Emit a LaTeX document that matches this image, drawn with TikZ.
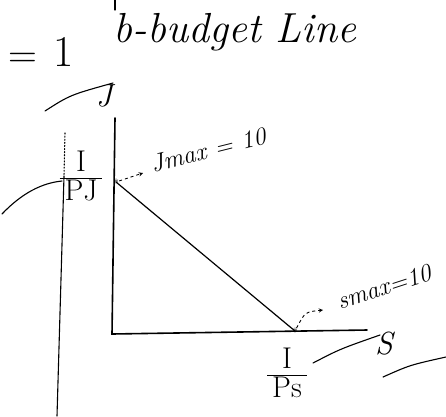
\documentclass[tikz,border=0pt]{standalone}
\usetikzlibrary{arrows, positioning}
\setlength{\arrayrulewidth}{1pt}
\tikzstyle{hand} = [line width=1.1pt, line cap=round]
\tikzstyle{axis} = [line width=1.6pt, line cap=round]
\tikzstyle{arrow} = [line width=0.9pt, ->, >=stealth, dashed]
\tikzstyle{note} = [inner sep=0pt, font=\fontsize{25}{27}\selectfont\itshape]
\tikzstyle{big} = [inner sep=0pt, font=\fontsize{32}{34}\selectfont\itshape]
\tikzstyle{frac} = [inner sep=0pt, font=\fontsize{30}{32}\selectfont]

\begin{document}
\begin{tikzpicture}[x=1pt, y=-1pt]
    \useasboundingbox (0,0) rectangle (446,416);

    % Title
    \node (eq) at (23,60) [inner sep=0pt, font=\fontsize{40}{42}\selectfont] {=};
    \node (one) at (64,52) [inner sep=0pt, font=\fontsize{44}{46}\selectfont] {1};
    \node (title) at (235,32) [inner sep=0pt, font=\fontsize{42}{44}\selectfont\itshape] {b-budget Line};
    \draw[hand] (115,0) -- (115,10);

    % Axes
    \coordinate (top) at (115,118);
    \coordinate (origin) at (112,334);
    \coordinate (right) at (367,330);
    \draw[axis] (top) -- (origin) -- (right);
    \node (jlbl) at (104,96) [big] {J};
    \node (slbl) at (384,344) [big] {S};

    % Intercepts
    \node (jstar) at (116,182) [inner sep=0pt, font=\large] {$*$};
    \node (sstar) at (295,331) [inner sep=0pt, font=\large] {$*$};
    \draw[line width=1.2pt] (jstar.center) -- (sstar.center);

    \node (jfrac) at (81,180) [frac] {\begin{tabular}{@{\,}c@{\,}}I\\[-4pt]\hline PJ\end{tabular}};
    \node (sfrac) at (287,377) [frac] {\begin{tabular}{@{\,}c@{\,}}I\\[-4pt]\hline Ps\end{tabular}};

    % Max labels
    \node (jmax) at (208,150) [note, rotate=14, anchor=center] {Jmax = 10};
    \node (smax) at (384,287) [note, rotate=18, anchor=center] {smax=10};
    \draw[arrow] (jstar) -- ++(27,-9);
    \draw[arrow] (sstar) .. controls (305,312) .. (323,310);

    % Strokes
    \draw[hand] (45,111) .. controls (70,95) .. (113,83);
    \draw[hand] (2,214) .. controls (22,193) and (42,183) .. (62,181);
    \draw[hand, dotted] (65,133) -- (64,176);
    \draw[hand] (64,176) -- (57,416);
    \draw[hand] (313,363) .. controls (340,349) .. (380,335);
    \draw[hand] (383,377) .. controls (410,365) .. (446,357);
\end{tikzpicture}
\end{document}
